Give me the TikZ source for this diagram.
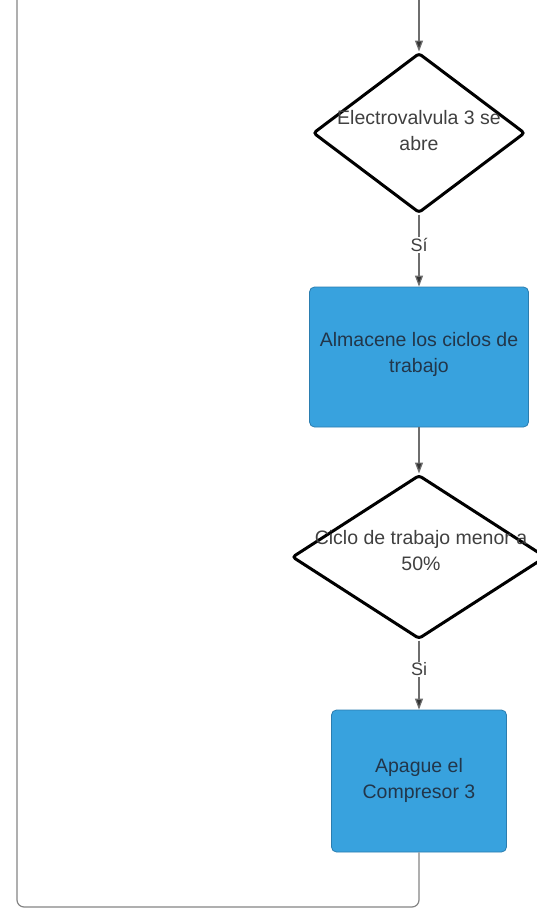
\documentclass[tikz,border=0pt]{standalone}
\usepackage{fontspec}
\setmainfont{Liberation Sans}
\usetikzlibrary{shapes.geometric,arrows.meta}
\definecolor{procblue}{HTML}{38A2DE}
\definecolor{procedge}{HTML}{2A7DB0}
\definecolor{proctext}{HTML}{22364A}
\definecolor{decitext}{HTML}{404040}
\definecolor{wire}{HTML}{6E6E6E}
\tikzset{
  decision/.style={draw=black, line width=3pt, rounded corners=3pt, shape=diamond,
    fill=white, inner sep=0pt},
  process/.style={draw=procedge, line width=0.8pt, fill=procblue, rounded corners=5pt,
    inner sep=0pt},
  dectext/.style={text=decitext, align=center, font=\fontsize{19.5}{26}\selectfont},
  proctxt/.style={text=proctext, align=center, font=\fontsize{19.5}{26}\selectfont},
  flow/.style={draw=wire, line width=1.2pt, -{Triangle[length=11pt,width=8pt,fill=black!80]}},
  loopline/.style={draw=wire!85, line width=1.2pt, rounded corners=7pt},
  edgelabel/.style={fill=white, text=decitext, inner sep=1pt, font=\fontsize{18}{20}\selectfont}
}
\begin{document}
\begin{tikzpicture}[x=1pt,y=-1pt]
\useasboundingbox (0,0) rectangle (537,910);

% incoming line from above
\coordinate (entry) at (419,0);

% first decision
\node[decision, minimum width=212pt, minimum height=160pt] (d1) at (419,133) {};
\node[dectext] (d1t) at (419,131) {Electrovalvula 3 se\\abre};

% store duty cycles
\node[process, minimum width=219pt, minimum height=140pt] (p1) at (419,357) {};
\node[proctxt] (p1t) at (419,354) {Almacene los ciclos de\\trabajo};

% second decision
\node[decision, minimum width=254pt, minimum height=164pt] (d2) at (419,557) {};
\node[dectext] (d2t) at (421,551) {Ciclo de trabajo menor a\\50\%};

% switch compressor off
\node[process, minimum width=175pt, minimum height=142pt] (p2) at (419,781) {};
\node[proctxt] (p2t) at (419,780) {Apague el\\Compresor 3};

% connectors
\draw[flow] (entry) -- (d1.north);
\draw[flow] (d1.south) -- node[edgelabel, pos=0.42] (l1) {Sí} (p1.north);
\draw[flow] (p1.south) -- (d2.north);
\draw[flow] (d2.south) -- node[edgelabel, pos=0.42] (l2) {Si} (p2.north);

% return loop along the left side
\coordinate (loopbottom) at (419,907);
\coordinate (loopcorner) at (17,907);
\coordinate (looptop) at (17,0);
\draw[loopline] (p2.south) -- (loopbottom) -- (loopcorner) -- (looptop);
\end{tikzpicture}
\end{document}
